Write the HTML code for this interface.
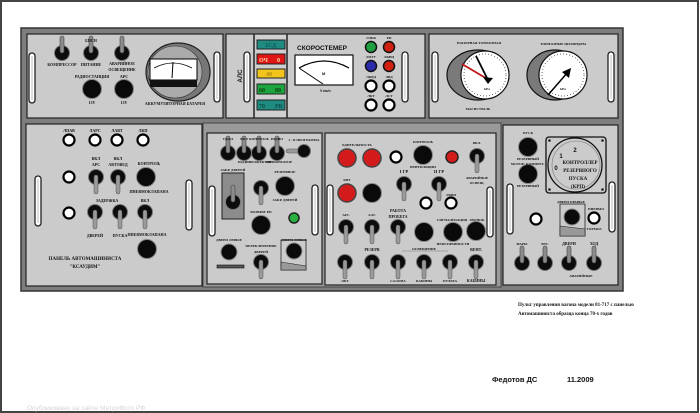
<!DOCTYPE html>
<html><head><meta charset="utf-8"><style>
html,body{margin:0;padding:0;background:#fff}
svg{display:block}
text{font-family:"Liberation Serif",serif;font-weight:bold;fill:#111}
.s{font-family:"Liberation Sans",sans-serif}
</style></head><body>
<svg width="700" height="413" viewBox="0 0 700 413" xmlns="http://www.w3.org/2000/svg">
<defs>
<g id="td"><circle r="7.5" fill="#0c0c0c" stroke="#777" stroke-width="1"/><rect x="-2" y="-2" width="4" height="19" rx="2" fill="#9a9a9a" stroke="#555" stroke-width=".5"/></g>
<g id="tu"><circle r="7.5" fill="#0c0c0c" stroke="#777" stroke-width="1"/><rect x="-2" y="-17" width="4" height="17" rx="2" fill="#8c8c8c" stroke="#444" stroke-width=".6"/></g>
<g id="b"><circle r="9.5" fill="#0a0a0a" stroke="#888" stroke-width="1"/></g>
<g id="bs"><circle r="8" fill="#0a0a0a" stroke="#888" stroke-width="1"/></g>
<g id="l"><circle r="5.5" fill="#fff" stroke="#000" stroke-width="2.2"/></g>
<g id="r"><circle r="9" fill="#d41b1b" stroke="#444" stroke-width="1.5"/></g>
<g id="h"><rect x="-3" y="0" width="6" height="50" rx="3" fill="#fff" stroke="#222" stroke-width="1.3"/><rect x="-1" y="3" width="2" height="44" fill="#ddd"/></g>
</defs>
<rect x="1" y="1" width="697" height="411" fill="#fff" stroke="#444" stroke-width="2"/>
<rect x="21" y="28" width="602" height="263" fill="#7e7e7e" stroke="#333" stroke-width="1.5"/>
<rect x="203" y="123" width="298" height="164" fill="#9a9a9a" stroke="#444"/>
<g fill="#cbcbcb" stroke="#222" stroke-width="1.2">
<rect x="27" y="34" width="196" height="84"/>
<rect x="226" y="34" width="199" height="84"/>
<rect x="429" y="34" width="189" height="84"/>
<rect x="26" y="124" width="176" height="162"/>
<rect x="207" y="133" width="115" height="151"/>
<rect x="325" y="133" width="171" height="152"/>
<rect x="503" y="125" width="115" height="160"/>
</g>
<!-- Panel A -->
<use href="#h" x="32" y="53"/><use href="#h" x="217" y="52"/>
<use href="#tu" x="62" y="53"/><use href="#tu" x="91" y="53"/><use href="#tu" x="122" y="53"/>
<g font-size="4" text-anchor="middle">
<text x="91" y="42">БПСН</text>
<text x="62" y="66">КОМПРЕССОР</text><text x="91" y="66">ПИТАНИЕ</text>
<text x="122" y="65">АВАРИЙНОЕ</text><text x="122" y="71">ОСВЕЩЕНИЕ</text>
<text x="92" y="78">РАДИОСТАНЦИЯ</text><text x="124" y="78">АРС</text>
<text x="92" y="104">13V</text><text x="124" y="104">13V</text>
<text x="175" y="105">АККУМУЛЯТОРНАЯ БАТАРЕЯ</text>
</g>
<use href="#b" x="92" y="89"/><use href="#b" x="124" y="89"/>
<ellipse cx="178" cy="72" rx="32" ry="29" fill="#777" stroke="#222" stroke-width="1.2"/>
<ellipse cx="175" cy="72" rx="27" ry="26" fill="#aaa" stroke="#333" stroke-width=".6"/>
<rect x="150" y="59" width="47" height="21" fill="#fff" stroke="#000"/>
<rect x="150" y="80" width="47" height="7" fill="#111"/>
<path d="M154 68 Q173 58 192 68" fill="none" stroke="#000" stroke-width=".8"/>
<line x1="173" y1="62" x2="172" y2="78" stroke="#000" stroke-width="1"/>
<!-- Panel B -->
<line x1="254" y1="34" x2="254" y2="118" stroke="#222" stroke-width="1.5"/>
<line x1="287" y1="34" x2="287" y2="118" stroke="#222" stroke-width="1.5"/>
<text x="242" y="76" font-size="6" class="s" transform="rotate(-90 242 76)" text-anchor="middle">АЛС</text>
<use href="#h" x="247" y="52"/>
<rect x="256" y="35" width="30" height="82" fill="#d0d0d0"/>
<g stroke="#222" stroke-width="1">
<rect x="257" y="40" width="28" height="9" fill="#1f8a80"/>
<rect x="257" y="54" width="28" height="10" fill="#e01616"/>
<rect x="257" y="69" width="28" height="9" fill="#f3c41c"/>
<rect x="257" y="84" width="28" height="10" fill="#1fa540"/>
<rect x="257" y="100" width="28" height="10" fill="#1f8a80"/>
</g>
<g font-size="6" class="s">
<text x="265" y="47" style="fill:#0d5c55">1СД</text>
<text x="259" y="62" style="fill:#ffd0a0">ОЧ</text><text x="277" y="62" style="fill:#ffe0a0">0</text>
<text x="266" y="76" style="fill:#b08a10">40</text>
<text x="259" y="92" style="fill:#0c3d10">60</text><text x="275" y="92" style="fill:#0c3d10">80</text>
<text x="259" y="108" style="fill:#0c4d48">70</text><text x="275" y="108" style="fill:#0c4d48">РК</text>
</g>
<text x="297" y="50" font-size="6.5" class="s">СКОРОСТЕМЕР</text>
<rect x="295" y="55" width="58" height="30" fill="#fff" stroke="#111" stroke-width="1.2"/>
<path d="M299 68 Q324 54 349 68" fill="none" stroke="#000" stroke-width="1.2"/>
<line x1="299" y1="68" x2="323" y2="84" stroke="#000" stroke-width="1"/>
<text x="322" y="75" font-size="4" class="s">М</text>
<text x="320" y="92" font-size="3.5" class="s">V км/ч</text>
<circle cx="371" cy="47" r="5.5" fill="#1fa040" stroke="#111" stroke-width="1.5"/>
<circle cx="389" cy="47" r="5.5" fill="#d02010" stroke="#111" stroke-width="1.5"/>
<circle cx="371" cy="66" r="5.5" fill="#2a2aaa" stroke="#111" stroke-width="1.5"/>
<circle cx="389" cy="66" r="5.5" fill="#d02010" stroke="#111" stroke-width="1.5"/>
<use href="#l" x="371" y="86"/><use href="#l" x="389" y="86"/>
<use href="#l" x="371" y="105"/><use href="#l" x="389" y="105"/>
<g font-size="3.5" text-anchor="middle">
<text x="371" y="39">ЛЭКК</text><text x="389" y="39">РП</text>
<text x="371" y="58">ЛПТУ</text><text x="389" y="58">ЛКВЦ</text>
<text x="371" y="78">ЛКВД</text><text x="389" y="78">ЛВД</text>
<text x="371" y="97">ЛКТ</text><text x="389" y="97">ЛСТ</text>
</g>
<use href="#h" x="405" y="52"/>
<!-- Panel C -->
<use href="#h" x="435" y="52"/><use href="#h" x="611" y="52"/>
<ellipse cx="478" cy="75" rx="31" ry="25" fill="#7a7a7a" stroke="#111" stroke-width="1.2"/>
<circle cx="485" cy="75" r="24" fill="#fff" stroke="#111" stroke-width="1.2"/>
<circle cx="485" cy="75" r="21" fill="none" stroke="#000" stroke-width="1" stroke-dasharray="0.6 2.5"/>
<line x1="462" y1="64" x2="489" y2="80" stroke="#c01515" stroke-width="1.8"/>
<line x1="476" y1="56" x2="488" y2="80" stroke="#000" stroke-width="1.8"/>
<polygon points="483,77 493,78 488,84" fill="#000"/>
<ellipse cx="555" cy="75" rx="28" ry="25" fill="#7a7a7a" stroke="#111" stroke-width="1.2"/>
<circle cx="563" cy="75" r="24" fill="#fff" stroke="#111" stroke-width="1.2"/>
<circle cx="563" cy="75" r="21" fill="none" stroke="#000" stroke-width="1" stroke-dasharray="0.6 2.5"/>
<line x1="548" y1="95" x2="568" y2="72" stroke="#000" stroke-width="1.5"/>
<polygon points="562,72 571,68 569,78" fill="#000"/>
<g font-size="3.5" text-anchor="middle" class="s">
<text x="479" y="44">НАПОРНАЯ ТОРМОЗНАЯ</text><text x="478" y="110">МАГИСТРАЛЬ</text>
<text x="563" y="45">ТОРМОЗНЫЕ ЦИЛИНДРЫ</text>
<text x="487" y="90">kPa</text><text x="563" y="90">kPa</text>
</g>
<!-- Panel D -->
<use href="#h" x="38" y="176"/><use href="#h" x="189" y="180"/>
<use href="#l" x="69" y="140"/><use href="#l" x="95" y="140"/><use href="#l" x="117" y="140"/><use href="#l" x="143" y="140"/>
<use href="#l" x="69" y="177"/><use href="#l" x="69" y="213"/>
<use href="#td" x="96" y="177"/><use href="#td" x="118" y="177"/>
<use href="#b" x="146" y="177"/>
<use href="#td" x="95" y="212"/><use href="#td" x="120" y="212"/><use href="#td" x="145" y="212"/>
<use href="#b" x="147" y="249"/>
<g font-size="4" text-anchor="middle">
<text x="69" y="132">ЛПАВ</text><text x="95" y="132">ЛАРС</text><text x="117" y="132">ЛАВТ</text><text x="143" y="132">ЛКП</text>
<text x="96" y="160">ВКЛ</text><text x="96" y="166">АРС</text>
<text x="118" y="160">ВКЛ</text><text x="118" y="166">АВТОВЕД</text>
<text x="149" y="165">КОНТРОЛЬ</text><text x="149" y="193">ПНЕВМОКЛАПАНА</text>
<text x="107" y="202">ЗАДЕРЖКА</text><text x="145" y="202">ВКЛ</text>
<text x="95" y="237">ДВЕРЕЙ</text><text x="120" y="237">ПУСКА</text><text x="147" y="236">ПНЕВМОКЛАПАНА</text>
<text x="85" y="260" font-size="5">ПАНЕЛЬ АВТОМАШИНИСТА</text>
<text x="85" y="268" font-size="5">"КСАУДИМ"</text>
</g>
<!-- Panel E -->
<use href="#h" x="212" y="186"/><use href="#h" x="315" y="185"/>
<use href="#tu" x="228" y="153"/><use href="#tu" x="244" y="153"/><use href="#tu" x="259" y="153"/><use href="#tu" x="277" y="153"/>
<rect x="286" y="149" width="16" height="4" rx="2" fill="#9a9a9a" stroke="#555" stroke-width=".5"/>
<circle cx="304" cy="151" r="6.5" fill="#0c0c0c" stroke="#777"/>
<rect x="222" y="173" width="22" height="46" fill="#8c8c8c" stroke="#222"/>
<use href="#tu" x="233" y="202"/>
<use href="#td" x="261" y="188"/>
<use href="#b" x="285" y="186"/>
<circle cx="294" cy="218" r="5" fill="#28b040" stroke="#222" stroke-width="1.5"/>
<use href="#b" x="261" y="225"/>
<use href="#bs" x="229" y="252"/>
<rect x="217" y="265" width="27" height="3" fill="#555" stroke="#111" stroke-width=".6"/>
<use href="#td" x="261" y="262"/>
<rect x="281" y="240" width="25" height="30" fill="#cbcbcb" stroke="#222" stroke-width=".8"/>
<polygon points="281,262 306,266 306,270 281,270" fill="#999" stroke="#222" stroke-width=".6"/>
<use href="#bs" x="294" y="251"/>
<g font-size="3.5" text-anchor="middle">
<text x="228" y="140">УДЖЛ</text><text x="244" y="140">ВКЛ</text><text x="259" y="140">КОНТРОЛЬ</text><text x="277" y="140">РАДИО</text>
<text x="304" y="141">I - II ПРОГРАММА</text>
<text x="244" y="163">РАДИО</text><text x="260" y="163">ПРОЖЕКТОР</text><text x="279" y="163">ИНФОРМАТОР</text>
<text x="233" y="171">ЗАКР. ДВЕРЕЙ</text>
<text x="285" y="173">РЕЗЕРВНОЕ</text><text x="285" y="201">ЗАКР. ДВЕРЕЙ</text>
<text x="261" y="213">ВОЗВРАТ РП</text>
<text x="229" y="241">ДВЕРИ ЛЕВЫЕ</text>
<text x="261" y="247">ПЕРЕКЛЮЧЕНИЕ</text><text x="261" y="253">ДВЕРЕЙ</text>
<text x="294" y="241">ДВЕРИ ЛЕВЫЕ</text>
</g>
<!-- Panel F -->
<use href="#h" x="330" y="185"/><use href="#h" x="490" y="187"/>
<use href="#r" x="347" y="158"/><use href="#r" x="372" y="158"/>
<use href="#l" x="396" y="157"/>
<use href="#b" x="423" y="155"/>
<circle cx="452" cy="157" r="6" fill="#d41b1b" stroke="#222" stroke-width="1.5"/>
<use href="#td" x="477" y="156"/>
<use href="#r" x="347" y="193"/><use href="#b" x="372" y="193"/>
<use href="#td" x="404" y="184"/><use href="#td" x="439" y="184"/>
<use href="#l" x="426" y="203"/><use href="#l" x="451" y="203"/>
<use href="#td" x="346" y="227"/><use href="#td" x="372" y="227"/><use href="#td" x="398" y="227"/>
<use href="#b" x="424" y="232"/><use href="#b" x="453" y="232"/><use href="#b" x="476" y="231"/>
<use href="#td" x="345" y="262"/><use href="#td" x="372" y="262"/><use href="#td" x="398" y="262"/><use href="#td" x="424" y="262"/><use href="#td" x="450" y="262"/><use href="#td" x="476" y="262"/>
<line x1="402" y1="251" x2="448" y2="251" stroke="#777" stroke-width=".6"/>
<g font-size="3.5" text-anchor="middle">
<text x="357" y="146">БДИТЕЛЬНОСТЬ</text>
<text x="423" y="143">КОНТРОЛЬ</text><text x="423" y="168">ВЕНТИЛЯЦИИ</text>
<text x="477" y="144">ВКЛ.</text><text x="477" y="179">АВАРИЙНОЕ</text><text x="477" y="184">ОСВЕЩ.</text>
<text x="347" y="181">КВТ</text>
<text x="404" y="173" font-size="4.5">I ГР</text><text x="439" y="173" font-size="4.5">II ГР</text>
<text x="451" y="196">ЛКВП</text>
<text x="346" y="216">АРС</text><text x="372" y="216">АЛС</text>
<text x="398" y="212" font-size="4">РАБОТА</text><text x="398" y="218" font-size="4">ПРОБЕГА</text>
<text x="452" y="221">СИГНАЛИЗАЦИЯ</text><text x="477" y="221">ЗВОНОК</text>
<text x="453" y="245">НЕИСПРАВНОСТИ</text>
<text x="372" y="251" font-size="4">РЕЗЕРВ</text><text x="424" y="250">ОСВЕЩЕНИЕ</text><text x="476" y="251" font-size="4">ВЕНТ.</text>
<text x="345" y="282">ОБТ</text><text x="398" y="282">САЛОНА</text><text x="424" y="282">КАБИНЫ</text><text x="450" y="282">ПУЛЬТА</text><text x="476" y="282" font-size="4">КАБИНЫ</text>
</g>
<!-- Panel G -->
<use href="#h" x="510" y="184"/><use href="#h" x="612" y="182"/>
<use href="#b" x="528" y="147"/><use href="#b" x="528" y="174"/>
<rect x="546" y="137" width="60" height="56" rx="3" fill="#cbcbcb" stroke="#111" stroke-width="1.3"/>
<circle cx="549.5" cy="140.5" r="1.3" fill="#222"/><circle cx="602.5" cy="140.5" r="1.3" fill="#222"/>
<circle cx="549.5" cy="189.5" r="1.3" fill="#222"/><circle cx="602.5" cy="189.5" r="1.3" fill="#222"/>
<circle cx="575" cy="165" r="27" fill="#cbcbcb" stroke="#111" stroke-width="1.3"/>
<circle cx="576" cy="165" r="24" fill="none" stroke="#777" stroke-width=".6"/>
<g text-anchor="middle">
<text x="575" y="152" font-size="6" class="s">2</text>
<text x="561" y="158" font-size="6" class="s">1</text>
<text x="556" y="170" font-size="6" class="s">0</text>
<text x="580" y="164" font-size="5">КОНТРОЛЛЕР</text>
<text x="580" y="172" font-size="5">РЕЗЕРВНОГО</text>
<text x="578" y="180" font-size="5">ПУСКА</text>
<text x="578" y="188" font-size="5">(КРП)</text>
</g>
<use href="#l" x="536" y="219"/>
<rect x="560" y="204" width="25" height="32" fill="#cbcbcb" stroke="#222" stroke-width=".8"/>
<polygon points="560,226 585,229 585,236 560,236" fill="#999" stroke="#222" stroke-width=".6"/>
<use href="#bs" x="572" y="217"/>
<use href="#l" x="594" y="218"/>
<use href="#tu" x="522" y="263"/><use href="#tu" x="545" y="263"/><use href="#tu" x="569" y="263"/><use href="#tu" x="594" y="263"/>
<g font-size="3.5" text-anchor="middle">
<text x="528" y="134">ПУСК</text>
<text x="528" y="160">РЕЗЕРВНЫЙ</text><text x="528" y="165">МОТОР- КОМПРЕС.</text>
<text x="528" y="187">РЕЗЕРВНЫЙ</text>
<text x="571" y="203">ДВЕРИ ПРАВЫЕ</text>
<text x="596" y="210">ПНЕВМО</text><text x="594" y="230">ТОРМОЗ</text>
<text x="522" y="245">ФАРЫ</text><text x="545" y="245">ВТС</text><text x="569" y="245" font-size="4">ДВЕРИ</text><text x="594" y="245" font-size="4">ХОД</text>
<text x="581" y="277">АВАРИЙНЫЕ</text>
</g>
<text x="518" y="306" font-size="5">Пульт управления вагона модели 81-717 с панелью</text>
<text x="518" y="315" font-size="5">Автомашиниста образца конца 70-х годов</text>
<text x="492" y="382" font-size="7.5" class="s">Федотов ДС</text>
<text x="567" y="382" font-size="7.5" class="s">11.2009</text>
<text x="27" y="410" font-size="6.5" class="s" style="fill:#d4d4d4;font-weight:normal">Опубликовано на сайте МетроФото РФ</text>
</svg>
</body></html>
